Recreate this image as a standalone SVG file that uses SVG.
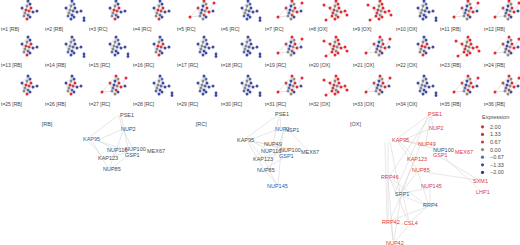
<svg xmlns="http://www.w3.org/2000/svg" xmlns:xlink="http://www.w3.org/1999/xlink" width="520" height="245" viewBox="0 0 520 245">
<style>
text{font-family:"Liberation Sans",Arial,sans-serif;font-size:5.5px;fill:#4a4a4a}
.tl{font-size:5px;fill:#444}
.bl{fill:#3b55a8}
.rd{fill:#e0353b}
.e{stroke:#cfcfcf;stroke-width:0.5;fill:none}
.me{stroke:#b8b8b8;stroke-width:0.4;fill:none}
.R{fill:#e4292f}.r{fill:#b8484e}.g{fill:#8a8a8a}.s{fill:#5d67a3}.B{fill:#3c4ba3}
circle{stroke:none}
</style>
<defs>
<g id="mEdges" class="me">
<path d="M0,-10L-6,-3M0,-10L2,-7M0,-10L-1,-5M2,-7L3,-3M-1,-5L-2,-1M-6,-3L-2,-1M-6,-3L-3,2M-6,-3L-4,5M-2,-1L1,0M1,0L5,1M3,-3L5,1M-3,2L0,4M0,4L2,6M-4,5L-1,8M0,4L-1,8M-1,-5L1,0M2,-7L-1,-5M5,1L9,0M3,-3L1,0M-2,-1L-3,2M0,-10L-4,5M2,-7L2,6"/>
</g>
<g id="mB">
<use xlink:href="#mEdges"/>
<circle class="B" cx="0" cy="-10" r="1.5"/><circle class="s" cx="2" cy="-7" r="1.5"/><circle class="g" cx="-1" cy="-5" r="1.5"/><circle class="B" cx="3" cy="-3" r="1.5"/><circle class="B" cx="-6" cy="-3" r="1.5"/><circle class="g" cx="-2" cy="-1" r="1.5"/><circle class="s" cx="1" cy="0" r="1.5"/><circle class="B" cx="5" cy="1" r="1.5"/><circle class="g" cx="-3" cy="2" r="1.5"/><circle class="B" cx="0" cy="4" r="1.5"/><circle class="s" cx="-4" cy="5" r="1.5"/><circle class="B" cx="2" cy="6" r="1.5"/><circle class="B" cx="-1" cy="8" r="1.5"/><circle class="B" cx="9" cy="0" r="1.5"/><circle class="B" cx="12" cy="7" r="1.4"/><circle class="B" cx="12" cy="9.5" r="1.4"/>
</g>
<g id="mBR">
<use xlink:href="#mEdges"/>
<circle class="B" cx="0" cy="-10" r="1.5"/><circle class="B" cx="2" cy="-7" r="1.5"/><circle class="g" cx="-1" cy="-5" r="1.5"/><circle class="R" cx="3" cy="-3" r="1.5"/><circle class="B" cx="-6" cy="-3" r="1.5"/><circle class="R" cx="-2" cy="-1" r="1.5"/><circle class="r" cx="1" cy="0" r="1.5"/><circle class="B" cx="5" cy="1" r="1.5"/><circle class="g" cx="-3" cy="2" r="1.5"/><circle class="s" cx="0" cy="4" r="1.5"/><circle class="g" cx="-4" cy="5" r="1.5"/><circle class="B" cx="2" cy="6" r="1.5"/><circle class="R" cx="-1" cy="8" r="1.5"/><circle class="B" cx="9" cy="0" r="1.5"/>
</g>
<g id="mM">
<use xlink:href="#mEdges"/>
<path class="me" d="M-6,-3L-14,6M-14,6L-4,5M5,1L10,-8"/>
<circle class="R" cx="0" cy="-10" r="1.5"/><circle class="g" cx="2" cy="-7" r="1.5"/><circle class="B" cx="-1" cy="-5" r="1.5"/><circle class="R" cx="3" cy="-3" r="1.5"/><circle class="r" cx="-6" cy="-3" r="1.5"/><circle class="B" cx="-2" cy="-1" r="1.5"/><circle class="g" cx="1" cy="0" r="1.5"/><circle class="R" cx="5" cy="1" r="1.5"/><circle class="s" cx="-3" cy="2" r="1.5"/><circle class="r" cx="0" cy="4" r="1.5"/><circle class="g" cx="-4" cy="5" r="1.5"/><circle class="B" cx="2" cy="6" r="1.5"/><circle class="g" cx="-1" cy="8" r="1.5"/><circle class="B" cx="9" cy="0" r="1.5"/><circle class="R" cx="-14" cy="6" r="1.5"/><circle class="R" cx="10" cy="-8" r="1.5"/>
</g>
<g id="mR">
<use xlink:href="#mEdges"/>
<path class="me" d="M-6,-3L-12,-6M-4,5L-10,9M5,1L11,4"/>
<circle class="R" cx="0" cy="-10" r="1.5"/><circle class="R" cx="2" cy="-7" r="1.5"/><circle class="g" cx="-1" cy="-5" r="1.5"/><circle class="R" cx="3" cy="-3" r="1.5"/><circle class="R" cx="-6" cy="-3" r="1.5"/><circle class="r" cx="-2" cy="-1" r="1.5"/><circle class="g" cx="1" cy="0" r="1.5"/><circle class="R" cx="5" cy="1" r="1.5"/><circle class="r" cx="-3" cy="2" r="1.5"/><circle class="g" cx="0" cy="4" r="1.5"/><circle class="R" cx="-4" cy="5" r="1.5"/><circle class="R" cx="2" cy="6" r="1.5"/><circle class="R" cx="-1" cy="8" r="1.5"/><circle class="R" cx="9" cy="0" r="1.5"/><circle class="R" cx="-12" cy="-6" r="1.5"/><circle class="R" cx="-10" cy="9" r="1.5"/><circle class="R" cx="11" cy="4" r="1.5"/>
</g>
</defs>

<g id="timecourse">
<use xlink:href="#mBR" x="28" y="11"/><use xlink:href="#mB" x="72" y="11"/><use xlink:href="#mBR" x="116" y="11"/><use xlink:href="#mBR" x="160" y="11"/><use xlink:href="#mM" x="204" y="11"/><use xlink:href="#mB" x="248" y="11"/><use xlink:href="#mM" x="292" y="11"/><use xlink:href="#mR" x="336" y="11"/><use xlink:href="#mR" x="380" y="11"/><use xlink:href="#mB" x="424" y="11"/><use xlink:href="#mM" x="468" y="11"/><use xlink:href="#mM" x="509" y="11"/>
<use xlink:href="#mBR" x="28" y="47"/><use xlink:href="#mB" x="72" y="47"/><use xlink:href="#mB" x="116" y="47"/><use xlink:href="#mBR" x="160" y="47"/><use xlink:href="#mB" x="204" y="47"/><use xlink:href="#mB" x="248" y="47"/><use xlink:href="#mM" x="292" y="47"/><use xlink:href="#mR" x="336" y="47"/><use xlink:href="#mM" x="380" y="47"/><use xlink:href="#mBR" x="424" y="47"/><use xlink:href="#mR" x="468" y="47"/><use xlink:href="#mM" x="509" y="47"/>
<use xlink:href="#mBR" x="28" y="86"/><use xlink:href="#mBR" x="72" y="86"/><use xlink:href="#mM" x="116" y="86"/><use xlink:href="#mB" x="160" y="86"/><use xlink:href="#mB" x="204" y="86"/><use xlink:href="#mB" x="248" y="86"/><use xlink:href="#mM" x="292" y="86"/><use xlink:href="#mR" x="336" y="86"/><use xlink:href="#mM" x="380" y="86"/><use xlink:href="#mB" x="424" y="86"/><use xlink:href="#mM" x="468" y="86"/><use xlink:href="#mM" x="509" y="86"/>
<g>
<text class="tl" x="1" y="31.3">t=1 [RB]</text><text class="tl" x="45" y="31.3">t=2 [RB]</text><text class="tl" x="89" y="31.3">t=3 [RC]</text><text class="tl" x="133" y="31.3">t=4 [RC]</text><text class="tl" x="177" y="31.3">t=5 [RC]</text><text class="tl" x="221" y="31.3">t=6 [RC]</text><text class="tl" x="265" y="31.3">t=7 [RC]</text><text class="tl" x="309" y="31.3">t=8 [OX]</text><text class="tl" x="353" y="31.3">t=9 [OX]</text><text class="tl" x="396" y="31.3">t=10 [OX]</text><text class="tl" x="440" y="31.3">t=11 [RB]</text><text class="tl" x="484" y="31.3">t=12 [RB]</text>
<text class="tl" x="1" y="67">t=13 [RB]</text><text class="tl" x="45" y="67">t=14 [RB]</text><text class="tl" x="89" y="67">t=15 [RC]</text><text class="tl" x="133" y="67">t=16 [RC]</text><text class="tl" x="177" y="67">t=17 [RC]</text><text class="tl" x="221" y="67">t=18 [RC]</text><text class="tl" x="265" y="67">t=19 [RC]</text><text class="tl" x="309" y="67">t=20 [OX]</text><text class="tl" x="353" y="67">t=21 [OX]</text><text class="tl" x="396" y="67">t=22 [OX]</text><text class="tl" x="440" y="67">t=23 [RB]</text><text class="tl" x="484" y="67">t=24 [RB]</text>
<text class="tl" x="1" y="106">t=25 [RB]</text><text class="tl" x="45" y="106">t=26 [RB]</text><text class="tl" x="89" y="106">t=27 [RC]</text><text class="tl" x="133" y="106">t=28 [RC]</text><text class="tl" x="177" y="106">t=29 [RC]</text><text class="tl" x="221" y="106">t=30 [RC]</text><text class="tl" x="265" y="106">t=31 [RC]</text><text class="tl" x="309" y="106">t=32 [OX]</text><text class="tl" x="353" y="106">t=33 [OX]</text><text class="tl" x="396" y="106">t=34 [OX]</text><text class="tl" x="440" y="106">t=35 [RB]</text><text class="tl" x="484" y="106">t=36 [RB]</text>
</g>
</g>

<g id="connectors">
<path class="e" d="M119,115L88,138M119,115L122,128M121,116L128,148M100,139L121,130M99,141L112,148M98,141L127,150M88,141L102,156M123,131L114,157M124,131L132,148M128,152L111,157M126,157L112,168M114,153L110,167M92,141L108,168"/>
<path class="e" d="M278,115L246,138M280,117L281,128M279,117L273,143M252,139L276,130M252,141L270,145M252,141L268,150M250,142L262,157M248,142L263,168M284,131L270,168M283,131L278,184M290,132L308,150M265,161L276,184M266,172L277,184M286,151L264,157M285,157L266,168M272,146L285,150M256,142L290,149"/>
<path class="e" d="M429,115L398,138M431,116L433,127M430,117L426,142M405,139L430,129M405,141L424,144M404,141L440,150M400,142L414,157M398,142L416,168M388,142L388,175M385,142L387,220M390,142L400,192M430,116L390,175M428,116L395,192M440,157L477,179M444,157L480,190M424,172L477,180M390,179L400,192M392,179L426,205M388,179L388,220M390,179L408,221M388,179L393,240M403,196L425,205M401,196L390,220M403,196L409,221M401,196L394,240M427,207L392,220M427,207L411,221M391,224L393,240M408,226L396,240M395,224L405,224M417,172L402,192M414,161L401,192M428,188L404,193M430,188L430,203M418,172L428,203M420,146L402,192"/>
</g>

<g id="panelLabels">
<text x="41.7" y="126.3">[RB]</text>
<text x="195.7" y="126.3">[RC]</text>
<text x="350" y="126.3">[OX]</text>
</g>

<g id="RB">
<g id="rb-PSE1"><text x="120" y="117">PSE1</text></g>
<g id="rb-NUP2"><text x="121" y="131">NUP2</text></g>
<g id="rb-KAP95"><text class="bl" x="83" y="141.3">KAP95</text></g>
<g id="rb-NUP116"><text x="107" y="152">NUP116</text></g>
<g id="rb-NUP100"><text x="125" y="151">NUP100</text></g>
<g id="rb-MEX67"><text x="147" y="153">MEX67</text></g>
<g id="rb-GSP1"><text x="125" y="157">GSP1</text></g>
<g id="rb-KAP123"><text x="98" y="160">KAP123</text></g>
<g id="rb-NUP85"><text x="103" y="171">NUP85</text></g>
</g>

<g id="RC">
<g id="rc-PSE1"><text x="275" y="116">PSE1</text></g>
<g id="rc-NSP1"><text x="285" y="132">NSP1</text></g>
<g id="rc-NUP2"><text class="bl" x="275" y="131">NUP2</text></g>
<g id="rc-KAP95"><text x="237" y="142">KAP95</text></g>
<g id="rc-NUP49"><text x="264" y="146">NUP49</text></g>
<g id="rc-NUP116"><text x="261" y="153">NUP116</text></g>
<g id="rc-NUP100"><text x="280" y="152">NUP100</text></g>
<g id="rc-MEX67"><text x="301" y="153.7">MEX67</text></g>
<g id="rc-GSP1"><text class="bl" x="279" y="157.7">GSP1</text></g>
<g id="rc-KAP123"><text x="253" y="161">KAP123</text></g>
<g id="rc-NUP85"><text x="257" y="172">NUP85</text></g>
<g id="rc-NUP145"><text class="bl" x="267" y="188">NUP145</text></g>
</g>

<g id="OX">
<g id="ox-PSE1"><text class="rd" x="428" y="116">PSE1</text></g>
<g id="ox-NUP2"><text class="rd" x="429" y="130">NUP2</text></g>
<g id="ox-KAP95"><text class="rd" x="392" y="142">KAP95</text></g>
<g id="ox-NUP49"><text class="rd" x="418" y="146">NUP49</text></g>
<g id="ox-NUP100"><text x="433" y="152">NUP100</text></g>
<g id="ox-MEX67"><text class="rd" x="455" y="153.7">MEX67</text></g>
<g id="ox-GSP1"><text class="rd" x="433" y="157">GSP1</text></g>
<g id="ox-KAP123"><text class="rd" x="407" y="161">KAP123</text></g>
<g id="ox-NUP85"><text class="rd" x="412" y="172">NUP85</text></g>
<g id="ox-NUP145"><text class="rd" x="421" y="187.7">NUP145</text></g>
<g id="ox-RRP46"><text class="rd" x="381" y="178.7">RRP46</text></g>
<g id="ox-SXM1"><text class="rd" x="473" y="183">SXM1</text></g>
<g id="ox-LHP1"><text class="rd" x="476" y="193.7">LHP1</text></g>
<g id="ox-SRP1"><text x="395" y="196">SRP1</text></g>
<g id="ox-RRP4"><text x="423" y="207">RRP4</text></g>
<g id="ox-RRP42"><text class="rd" x="382" y="224.3">RRP42</text></g>
<g id="ox-CSL4"><text class="rd" x="404" y="224.7">CSL4</text></g>
<g id="ox-NUP42"><text class="rd" x="386" y="244.5">NUP42</text></g>
</g>

<g id="legend">
<text x="482" y="119">Expression</text>
<circle class="R" cx="482.5" cy="126.8" r="1.6"/><text x="490" y="128.8">2.00</text>
<circle fill="#cf3238" cx="482.5" cy="134.4" r="1.6"/><text x="490" y="136.4">1.33</text>
<circle class="r" cx="482.5" cy="142" r="1.6"/><text x="490" y="144">0.67</text>
<circle class="g" cx="482.5" cy="149.6" r="1.6"/><text x="490" y="151.6">0.00</text>
<circle class="s" cx="482.5" cy="157.2" r="1.6"/><text x="490" y="159.2">−0.67</text>
<circle class="B" cx="482.5" cy="164.8" r="1.6"/><text x="490" y="166.8">−1.33</text>
<circle fill="#2c3990" cx="482.5" cy="172.4" r="1.6"/><text x="490" y="174.4">−2.00</text>
</g>
</svg>
